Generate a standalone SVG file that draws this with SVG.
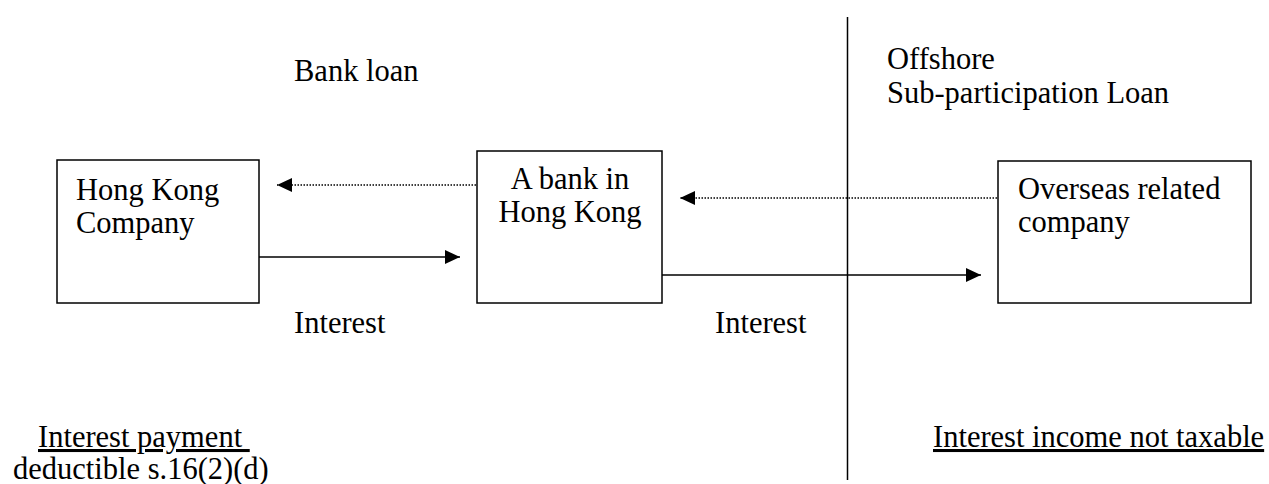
<svg xmlns="http://www.w3.org/2000/svg" width="1269" height="484" viewBox="0 0 1269 484">
<style>
text{font-family:"Liberation Serif","Times New Roman",serif;font-size:30.5px;fill:#000}
.box{fill:#fff;stroke:#000;stroke-width:1.5}
.solid{stroke:#000;stroke-width:1.5;fill:none}
.dot{stroke:#000;stroke-width:1.3;stroke-dasharray:1.5 1.5;fill:none}
.u{text-decoration:underline}
</style>
<defs>
<marker id="ah" markerUnits="userSpaceOnUse" markerWidth="16" markerHeight="14" refX="15" refY="7" orient="auto">
<path d="M0,0 L15,7 L0,14 Z" fill="#000"/>
</marker>
</defs>
<rect width="1269" height="484" fill="#fff"/>
<g id="divider">
<line x1="847.5" y1="17" x2="847.5" y2="480" class="solid"/>
</g>
<g id="connectors">
<line x1="476" y1="185" x2="277" y2="185" class="dot" marker-end="url(#ah)"/>
<line x1="259" y1="257" x2="460" y2="257" class="solid" marker-end="url(#ah)"/>
<line x1="997" y1="198" x2="680" y2="198" class="dot" marker-end="url(#ah)"/>
<line x1="662" y1="275" x2="981" y2="275" class="solid" marker-end="url(#ah)"/>
</g>
<g id="node-hk-company">
<rect class="box" x="57" y="160" width="202" height="143"/>
<text x="76" y="200">Hong Kong</text>
<text x="76" y="233">Company</text>
</g>
<g id="node-bank">
<rect class="box" x="477" y="151" width="185" height="152"/>
<text x="570" y="189" text-anchor="middle">A bank in</text>
<text x="570" y="222" text-anchor="middle">Hong Kong</text>
</g>
<g id="node-overseas">
<rect class="box" x="998" y="161" width="253" height="142"/>
<text x="1018" y="199">Overseas related</text>
<text x="1018" y="232">company</text>
</g>
<g id="labels">
<text x="294" y="81">Bank loan</text>
<text x="887" y="69">Offshore</text>
<text x="887" y="103">Sub-participation Loan</text>
<text x="294" y="333">Interest</text>
<text x="715" y="333">Interest</text>
<text x="38" y="447" class="u" xml:space="preserve">Interest payment </text>
<text x="13" y="479">deductible s.16(2)(d)</text>
<text x="933" y="447" class="u">Interest income not taxable</text>
</g>
</svg>
